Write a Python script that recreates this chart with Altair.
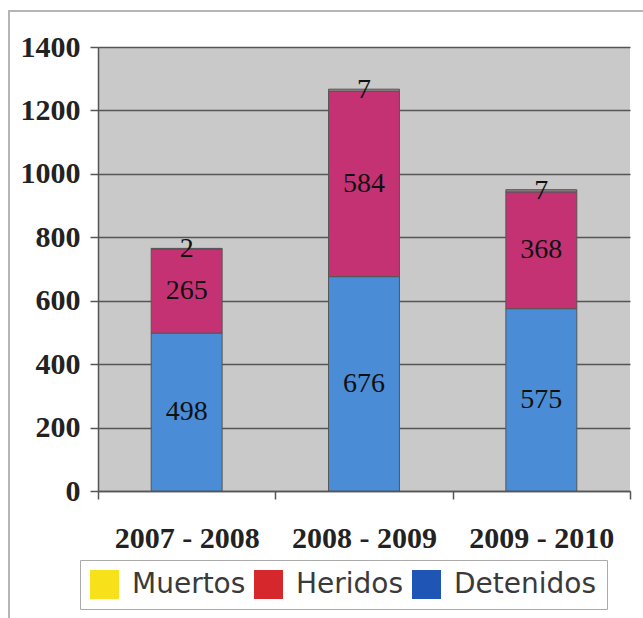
import altair as alt
import pandas as pd

periods = ["2007 - 2008", "2008 - 2009", "2009 - 2010"]
detenidos = [498, 676, 575]
heridos = [265, 584, 368]
muertos = [2, 7, 7]

series = ["Muertos", "Heridos", "Detenidos"]
bar_colors = ["#8c8080", "#c53274", "#4a8dd6"]
legend_colors = ["#f7e11a", "#d6282c", "#1f55b5"]
order_map = {"Detenidos": 0, "Heridos": 1, "Muertos": 2}

rows = []
for i, p in enumerate(periods):
    for name, vals in (("Detenidos", detenidos), ("Heridos", heridos), ("Muertos", muertos)):
        rows.append({"period": p, "series": name, "value": vals[i], "ord": order_map[name]})
df = pd.DataFrame(rows)

serif = "Liberation Serif"

x_enc = alt.X(
    "period:N",
    sort=periods,
    title=None,
    scale=alt.Scale(paddingInner=0, paddingOuter=0),
    axis=alt.Axis(
        tickBand="extent",
        labelAngle=0,
        labelFont=serif,
        labelFontWeight="bold",
        labelFontSize=30,
        labelColor="#222222",
        labelPadding=24,
        tickSize=8,
        tickColor="#555555",
        tickWidth=1.5,
        domainColor="#555555",
        domainWidth=1.5,
        grid=False,
    ),
)

y_axis = alt.Axis(
    values=[0, 200, 400, 600, 800, 1000, 1200, 1400],
    format="d",
    labelFont=serif,
    labelFontWeight="bold",
    labelFontSize=30,
    labelColor="#222222",
    labelPadding=10,
    tickSize=8,
    tickColor="#555555",
    tickWidth=1.5,
    domainColor="#555555",
    domainWidth=1.5,
    grid=True,
    gridColor="#555555",
    gridWidth=1.5,
    title=None,
)

base = alt.Chart(df)

bars = base.mark_bar(
    width=alt.RelativeBandSize(0.4), stroke="#555555", strokeWidth=1
).encode(
    x=x_enc,
    y=alt.Y("value:Q", stack="zero", scale=alt.Scale(domain=[0, 1400]), axis=y_axis),
    color=alt.Color(
        "series:N",
        scale=alt.Scale(domain=series, range=bar_colors),
        legend=None,
    ),
    order=alt.Order("ord:Q"),
)

labels = base.transform_stack(
    stack="value",
    groupby=["period"],
    as_=["v0", "v1"],
    sort=[alt.SortField("ord")],
).transform_calculate(
    mid="(datum.v0 + datum.v1) / 2"
).mark_text(
    font="Liberation Serif, Times New Roman, serif",
    fontSize=28,
    fontWeight="normal",
    color="#111111",
    baseline="middle",
    align="center",
).encode(
    x=alt.X("period:N", sort=periods),
    y=alt.Y("mid:Q"),
    text=alt.Text("value:Q"),
)

legend_layer = base.mark_square(opacity=0).encode(
    x=alt.X("period:N", sort=periods),
    y=alt.Y("value:Q"),
    color=alt.Color(
        "series:N",
        scale=alt.Scale(domain=series, range=legend_colors),
        legend=alt.Legend(
            title=None,
            orient="none",
            legendX=-18,
            legendY=513,
            direction="horizontal",
            symbolType="square",
            symbolSize=841,
            symbolOpacity=1,
            symbolStrokeWidth=0,
            labelFont="DejaVu Sans",
            labelFontSize=28,
            labelColor="#3a3a3a",
            labelOffset=13,
            columnPadding=8,
            padding=10,
            strokeColor="#aaaaaa",
            fillColor="#ffffff",
            labelLimit=300,
        ),
    ),
)

frame = alt.Chart(pd.DataFrame({"k": [0]})).mark_rect(
    fill=None, stroke="#b5b5b5", strokeWidth=2
).encode(
    x=alt.value(-89), x2=alt.value(600), y=alt.value(-36), y2=alt.value(640)
)

chart = alt.layer(frame, bars, labels, legend_layer).resolve_scale(
    color="independent"
).properties(
    width=532,
    height=444,
    autosize=alt.AutoSizeParams(type="none"),
    padding={"left": 98, "top": 47, "right": 13, "bottom": 127},
    background="#ffffff",
).configure_view(
    fill="#c9c9c9", stroke=None
)

chart.save("out.html", embed_options={"renderer": "svg", "actions": False})
